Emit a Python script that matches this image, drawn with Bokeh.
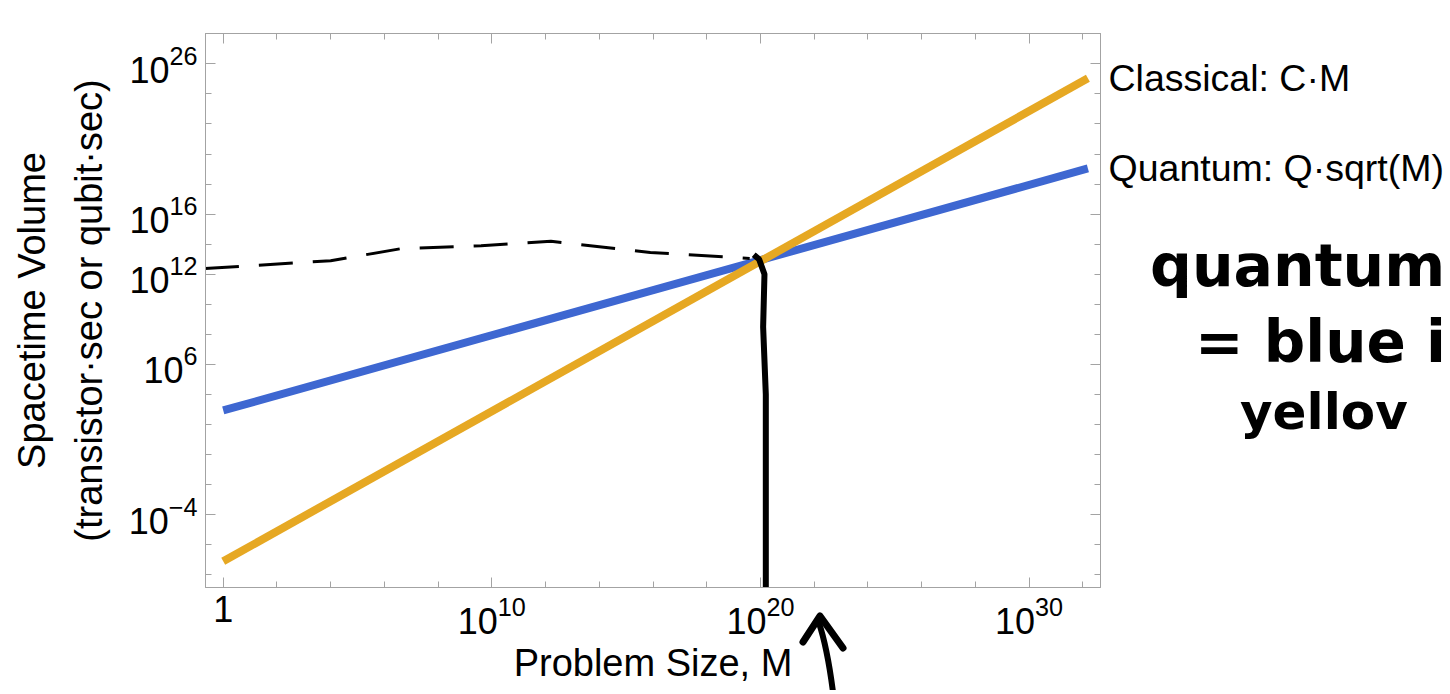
from bokeh.plotting import figure
from bokeh.models import (Range1d, FixedTicker, LogAxis, CustomJSTickFormatter, Div)
from bokeh.layouts import column
from bokeh.embed import file_html
from bokeh.resources import INLINE

# ---------------- data ----------------
problem_size = [1.0, 1.55e32]          # M
classical_volume = [8.0e-8, 1.1e25]    # C*M
quantum_volume = [8.7e2, 1.1e19]       # Q*sqrt(M)
series_labels = ["Classical: C\u00b7M", "Quantum: Q\u00b7sqrt(M)"]

x_major_ticks = [1.0, 1e10, 1e20, 1e30]
x_minor_ticks = [1.0, 1e2, 1e4, 1e6, 1e8, 1e10, 1e12, 1e14, 1e16, 1e18, 1e20,
                 1e22, 1e24, 1e26, 1e28, 1e30, 1e32]
y_major_ticks = [1e-4, 1e6, 1e16, 1e26]
y_minor_ticks = [1e-8, 1e-6, 1e-4, 1e-2, 1.0, 1e2, 1e4, 1e6, 1e8, 1e10, 1e12,
                 1e14, 1e16, 1e18, 1e20, 1e22, 1e24, 1e26, 1e28]

# hand-drawn annotations (ink on top of the chart)
hand_level = 1e12                       # the hand-written "10^12" mark
guide_M = [10**-0.68, 1e4, 10**6.6, 10**9.6, 10**12.2, 10**15.9, 10**19.6]
guide_V = [10**12.38, 10**12.9, 10**13.7, 10**13.9, 10**14.2, 10**13.45, 10**13.05]
stroke_M = [10**19.75, 10**19.95, 10**20.15, 10**20.1, 10**20.2, 10**20.2]
stroke_V = [10**13.3, 10**13.0, 10**12.0, 10**8.5, 10**4.0, 10**-9.0]
notes = ["quantum", "= blue i", "yellov"]

BLUE = "#3e67d1"
ORANGE = "#e6a823"
FRAME = "#a3a3a3"
FONT = "Liberation Sans"

W, H = 1446, 690

p = figure(width=W, height=H,
           x_axis_type="log", y_axis_type="log",
           x_range=Range1d(10**-0.66, 10**32.66),
           y_range=Range1d(10**-8.84, 10**28.02),
           output_backend="svg", toolbar_location=None,
           min_border_left=205, min_border_right=W - 1100,
           min_border_top=33, min_border_bottom=H - 587)

p.xgrid.visible = False
p.ygrid.visible = False
p.outline_line_color = FRAME
p.background_fill_color = "white"
p.border_fill_color = "white"

bottom = p.below[0]
left = p.left[0]
bottom.ticker = FixedTicker(ticks=x_major_ticks, minor_ticks=x_minor_ticks)
left.ticker = FixedTicker(ticks=sorted(y_major_ticks + [hand_level]),
                          minor_ticks=y_minor_ticks)
bottom.major_label_overrides = {1: "1"}

top = LogAxis(ticker=FixedTicker(ticks=x_major_ticks, minor_ticks=x_minor_ticks),
              formatter=CustomJSTickFormatter(code="return '';"))
right = LogAxis(ticker=FixedTicker(ticks=y_major_ticks, minor_ticks=y_minor_ticks),
                formatter=CustomJSTickFormatter(code="return '';"))
p.add_layout(top, "above")
p.add_layout(right, "right")

# series labels at the line ends, placed through the y scale
end_values = [classical_volume[-1], quantum_volume[-1]]
label_axis = LogAxis(ticker=FixedTicker(ticks=end_values),
                     major_label_overrides=dict(zip(end_values, series_labels)))
p.add_layout(label_axis, "right")


def style(ax, labels=True):
    ax.axis_line_color = FRAME
    ax.major_tick_line_color = FRAME
    ax.minor_tick_line_color = FRAME
    ax.major_tick_in = 10
    ax.major_tick_out = 0
    ax.minor_tick_in = 6
    ax.minor_tick_out = 0
    ax.major_label_text_font = FONT
    ax.major_label_text_color = "black"
    ax.axis_label_text_font = FONT
    ax.axis_label_text_font_style = "normal"
    ax.axis_label_text_color = "black"
    ax.axis_label_text_font_size = "38px"
    if labels:
        ax.major_label_text_font_size = "36px"
    else:
        ax.major_label_text_font_size = "10px"
        ax.major_label_standoff = 0


style(bottom)
style(left)
style(top, labels=False)
style(right, labels=False)

label_axis.axis_line_color = None
label_axis.major_tick_line_color = None
label_axis.minor_tick_line_color = None
label_axis.major_tick_in = 0
label_axis.major_tick_out = 0
label_axis.major_label_standoff = 8
label_axis.major_label_text_font = FONT
label_axis.major_label_text_font_size = "37.5px"
label_axis.major_label_text_color = "black"

bottom.major_label_standoff = 8
left.major_label_standoff = 8
bottom.axis_label = "Problem Size, M"
bottom.axis_label_standoff = 5
left.axis_label = "Spacetime Volume\n(transistor\u00b7sec or qubit\u00b7sec)"
left.axis_label_standoff = 16
left.axis_label_text_line_height = 1.35

p.line(problem_size, quantum_volume, line_color=BLUE, line_width=8)
p.line(problem_size, classical_volume, line_color=ORANGE, line_width=8)

# ---- hand-drawn ink ----
p.line(guide_M, guide_V, line_color="black", line_width=3, line_dash="34 20")
p.line(stroke_M, stroke_V, line_color="black", line_width=6)

ink = ("font-family:'DejaVu Sans';font-weight:bold;color:black;position:absolute;"
       "line-height:1;white-space:nowrap;")
arrow_svg = (
    '<svg width="746" height="480" style="position:absolute;left:0;top:0;">'
    '<path d="M103 432 L120 406 L143 438" fill="none" stroke="black" '
    'stroke-width="7" stroke-linecap="round" stroke-linejoin="round"/>'
    '<path d="M119 413 Q128 440 134 490" fill="none" stroke="black" '
    'stroke-width="6" stroke-linecap="round"/>'
    '</svg>'
)
notes_html = (
    '<div style="position:relative;width:746px;height:480px;overflow:hidden;">'
    + arrow_svg +
    f'<span style="{ink}left:450px;top:27px;font-size:58.5px;">{notes[0]}</span>'
    f'<span style="{ink}left:495px;top:103px;font-size:58px;">{notes[1]}</span>'
    f'<span style="{ink}left:540px;top:177px;font-size:50px;">{notes[2]}</span>'
    '</div>'
)
notes_div = Div(text=notes_html, width=746, height=480,
                margin=(210 - H, 0, 0, 700))

page = column(p, notes_div)
open("out.html", "w").write(file_html(page, INLINE))
